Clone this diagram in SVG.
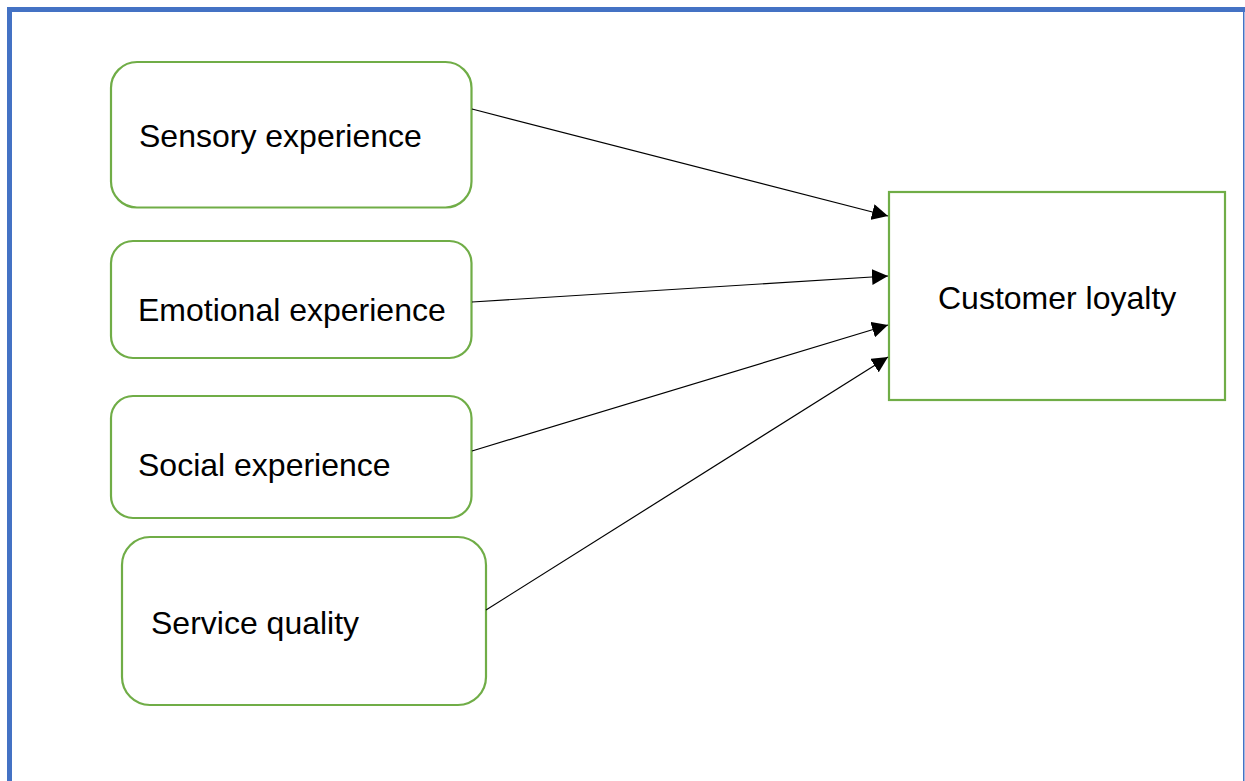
<svg xmlns="http://www.w3.org/2000/svg" width="1245" height="781" viewBox="0 0 1245 781">
  <style>
    .box { fill: #ffffff; stroke: #70AD47; stroke-width: 2.2; }
    .label { font-family: "Liberation Sans", Arial, sans-serif; font-size: 32px; fill: #000000; }
    .link { stroke: #000000; stroke-width: 1.2; fill: none; marker-end: url(#arrow); }
  </style>
  <defs>
    <marker id="arrow" viewBox="0 0 10 10" refX="10" refY="5" markerWidth="16" markerHeight="16" markerUnits="userSpaceOnUse" orient="auto">
      <path d="M0,0 L10,5 L0,10 Z" fill="#000000"/>
    </marker>
  </defs>

  <rect width="1245" height="781" fill="#ffffff"/>

  <!-- page frame -->
  <g id="frame" fill="#4472C4">
    <rect x="7" y="7" width="1238" height="5"/>
    <rect x="7" y="7" width="5" height="774"/>
    <rect x="1243" y="7" width="1.5" height="774"/>
  </g>

  <g id="sensory">
    <rect class="box" x="111" y="62" width="360.5" height="145.5" rx="26"/>
    <text class="label" x="139" y="147">Sensory experience</text>
  </g>
  <g id="emotional">
    <rect class="box" x="111" y="241" width="360.5" height="117" rx="22"/>
    <text class="label" x="138" y="321">Emotional experience</text>
  </g>
  <g id="social">
    <rect class="box" x="111" y="396" width="360.5" height="122" rx="22"/>
    <text class="label" x="138" y="476">Social experience</text>
  </g>
  <g id="service">
    <rect class="box" x="122" y="537" width="364" height="168" rx="28"/>
    <text class="label" x="151" y="634">Service quality</text>
  </g>
  <g id="loyalty">
    <rect class="box" x="889" y="192" width="336" height="208"/>
    <text class="label" x="938" y="309">Customer loyalty</text>
  </g>

  <g id="connectors">
    <line class="link" x1="472" y1="109" x2="888" y2="216"/>
    <line class="link" x1="472" y1="302" x2="888" y2="276"/>
    <line class="link" x1="472" y1="451" x2="888" y2="325"/>
    <line class="link" x1="486" y1="610" x2="888" y2="357"/>
  </g>
</svg>
